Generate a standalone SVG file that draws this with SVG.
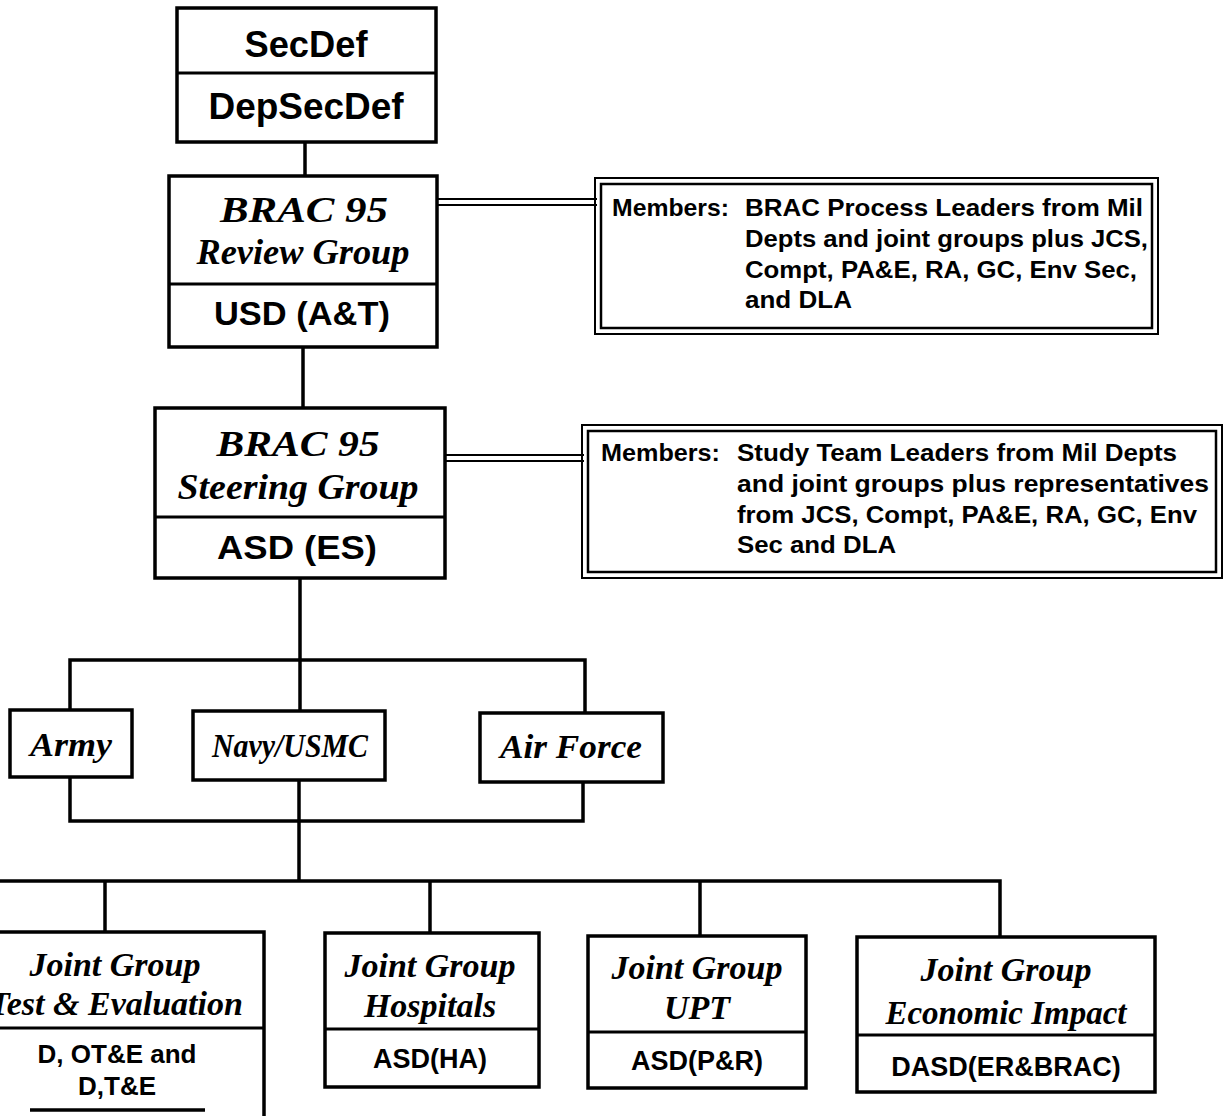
<svg xmlns="http://www.w3.org/2000/svg" width="1223" height="1116" viewBox="0 0 1223 1116">
<style>
.box{fill:#fff;stroke:#000;stroke-width:3.5}
.div{stroke:#000;stroke-width:3}
.ln{stroke:#000;stroke-width:3.5;fill:none}
.dbl{stroke:#000;stroke-width:1.8;fill:none}
.mo{fill:none;stroke:#000;stroke-width:2}
.mi{fill:#fff;stroke:#000;stroke-width:2.5}
.h{font-family:"Liberation Sans",Arial,sans-serif;font-weight:bold;text-anchor:middle;fill:#000}
.t{font-family:"Liberation Serif","Times New Roman",serif;font-weight:bold;font-style:italic;text-anchor:middle;fill:#000}
.m{font-family:"Liberation Sans",Arial,sans-serif;font-weight:bold;font-size:24px;fill:#000}
</style>
<rect width="1223" height="1116" fill="#fff"/>
<g id="connectors">
<line class="ln" x1="305" y1="141" x2="305" y2="176"/>
<line class="ln" x1="303" y1="347" x2="303" y2="408"/>
<line class="dbl" x1="437" y1="199" x2="597" y2="199"/>
<line class="dbl" x1="437" y1="205" x2="597" y2="205"/>
<line class="dbl" x1="445" y1="455" x2="584" y2="455"/>
<line class="dbl" x1="445" y1="461" x2="584" y2="461"/>
<polyline class="ln" points="70,710 70,660 585,660 585,713"/>
<line class="ln" x1="300" y1="578" x2="300" y2="711"/>
<polyline class="ln" points="70,777 70,821 583,821 583,782"/>
<line class="ln" x1="299" y1="780" x2="299" y2="881"/>
<polyline class="ln" points="-5,881 1000,881 1000,937"/>
<line class="ln" x1="105" y1="881" x2="105" y2="932"/>
<line class="ln" x1="430" y1="881" x2="430" y2="933"/>
<line class="ln" x1="700" y1="881" x2="700" y2="936"/>
</g>
<g id="secdef">
<rect class="box" x="177" y="8" width="259" height="134"/>
<line class="div" x1="177" y1="73" x2="436" y2="73"/>
<text class="h" x="306" y="57" font-size="36" textLength="123" lengthAdjust="spacingAndGlyphs">SecDef</text>
<text class="h" x="306" y="119" font-size="36" textLength="195" lengthAdjust="spacingAndGlyphs">DepSecDef</text>
</g>
<g id="review">
<rect class="box" x="169" y="176" width="268" height="171"/>
<line class="div" x1="169" y1="284" x2="437" y2="284"/>
<text class="t" x="304" y="222" font-size="36" textLength="168" lengthAdjust="spacingAndGlyphs">BRAC 95</text>
<text class="t" x="303" y="264" font-size="36" textLength="213" lengthAdjust="spacingAndGlyphs">Review Group</text>
<text class="h" x="302" y="325" font-size="34" textLength="176" lengthAdjust="spacingAndGlyphs">USD (A&amp;T)</text>
</g>
<g id="members1">
<rect class="mo" x="595" y="178" width="563" height="156"/>
<rect class="mi" x="601" y="184" width="551" height="144"/>
<text class="m" x="612" y="216" textLength="117" lengthAdjust="spacingAndGlyphs">Members:</text>
<text class="m" x="745" y="216" textLength="398" lengthAdjust="spacingAndGlyphs">BRAC Process Leaders from Mil</text>
<text class="m" x="745" y="247" textLength="403" lengthAdjust="spacingAndGlyphs">Depts and joint groups plus JCS,</text>
<text class="m" x="745" y="278" textLength="392" lengthAdjust="spacingAndGlyphs">Compt, PA&amp;E, RA, GC, Env Sec,</text>
<text class="m" x="745" y="308" textLength="107" lengthAdjust="spacingAndGlyphs">and DLA</text>
</g>
<g id="steering">
<rect class="box" x="155" y="408" width="290" height="170"/>
<line class="div" x1="155" y1="517" x2="445" y2="517"/>
<text class="t" x="298" y="456" font-size="36" textLength="163" lengthAdjust="spacingAndGlyphs">BRAC 95</text>
<text class="t" x="298" y="499" font-size="36" textLength="241" lengthAdjust="spacingAndGlyphs">Steering Group</text>
<text class="h" x="297" y="559" font-size="34" textLength="160" lengthAdjust="spacingAndGlyphs">ASD (ES)</text>
</g>
<g id="members2">
<rect class="mo" x="582" y="425" width="640" height="153"/>
<rect class="mi" x="588" y="431" width="628" height="141"/>
<text class="m" x="601" y="461" textLength="119" lengthAdjust="spacingAndGlyphs">Members:</text>
<text class="m" x="737" y="461" textLength="440" lengthAdjust="spacingAndGlyphs">Study Team Leaders from Mil Depts</text>
<text class="m" x="737" y="492" textLength="472" lengthAdjust="spacingAndGlyphs">and joint groups plus representatives</text>
<text class="m" x="737" y="523" textLength="460" lengthAdjust="spacingAndGlyphs">from JCS, Compt, PA&amp;E, RA, GC, Env</text>
<text class="m" x="737" y="553" textLength="159" lengthAdjust="spacingAndGlyphs">Sec and DLA</text>
</g>
<g id="army">
<rect class="box" x="10" y="710" width="122" height="67"/>
<text class="t" x="71" y="756" font-size="34" textLength="82" lengthAdjust="spacingAndGlyphs">Army</text>
</g>
<g id="navy">
<rect class="box" x="193" y="711" width="192" height="69"/>
<text class="t" x="290" y="757" font-size="34" textLength="156" lengthAdjust="spacingAndGlyphs">Navy/USMC</text>
</g>
<g id="airforce">
<rect class="box" x="480" y="713" width="183" height="69"/>
<text class="t" x="571" y="758" font-size="34" textLength="142" lengthAdjust="spacingAndGlyphs">Air Force</text>
</g>
<g id="jg-te">
<rect class="box" x="-30" y="932" width="294" height="200"/>
<line class="div" x1="-30" y1="1028" x2="264" y2="1028"/>
<text class="t" x="115" y="976" font-size="34">Joint Group</text>
<text class="t" x="116" y="1015" font-size="34">Test &amp; Evaluation</text>
<text class="h" x="117" y="1063" font-size="26">D, OT&amp;E and</text>
<text class="h" x="117" y="1095" font-size="26">D,T&amp;E</text>
<line class="ln" x1="30" y1="1110" x2="205" y2="1110"/>
</g>
<g id="jg-hosp">
<rect class="box" x="325" y="933" width="214" height="154"/>
<line class="div" x1="325" y1="1029" x2="539" y2="1029"/>
<text class="t" x="430" y="977" font-size="34">Joint Group</text>
<text class="t" x="430" y="1017" font-size="34">Hospitals</text>
<text class="h" x="430" y="1068" font-size="27">ASD(HA)</text>
</g>
<g id="jg-upt">
<rect class="box" x="588" y="936" width="218" height="152"/>
<line class="div" x1="588" y1="1032" x2="806" y2="1032"/>
<text class="t" x="697" y="979" font-size="34">Joint Group</text>
<text class="t" x="697" y="1019" font-size="34">UPT</text>
<text class="h" x="697" y="1070" font-size="27">ASD(P&amp;R)</text>
</g>
<g id="jg-econ">
<rect class="box" x="857" y="937" width="298" height="155"/>
<line class="div" x1="857" y1="1035" x2="1155" y2="1035"/>
<text class="t" x="1006" y="981" font-size="34">Joint Group</text>
<text class="t" x="1006" y="1024" font-size="33">Economic Impact</text>
<text class="h" x="1006" y="1076" font-size="27">DASD(ER&amp;BRAC)</text>
</g>
</svg>
